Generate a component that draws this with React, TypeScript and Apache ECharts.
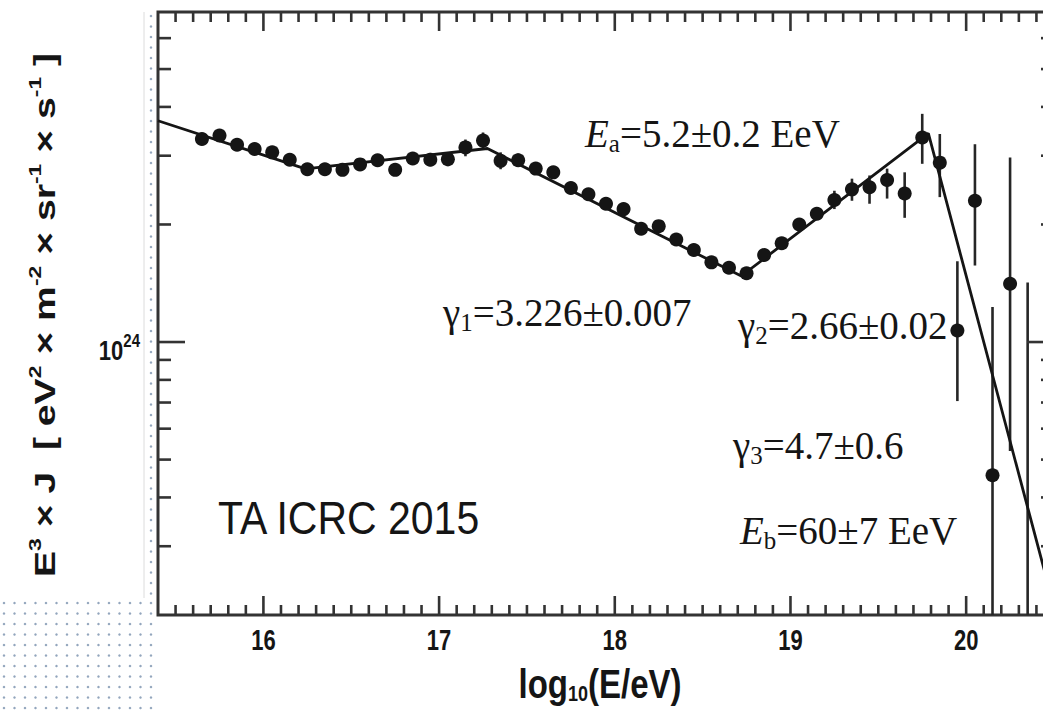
import React, { useEffect, useRef } from 'react';
import * as echarts from 'echarts';

// Energy bin centres, log10(E/eV)
const logE = [
  15.65, 15.75, 15.85, 15.95, 16.05, 16.15, 16.25, 16.35, 16.45, 16.55,
  16.65, 16.75, 16.85, 16.95, 17.05, 17.15, 17.25, 17.35, 17.45, 17.55,
  17.65, 17.75, 17.85, 17.95, 18.05, 18.15, 18.25, 18.35, 18.45, 18.55,
  18.65, 18.75, 18.85, 18.95, 19.05, 19.15, 19.25, 19.35, 19.45, 19.55,
  19.65, 19.75, 19.85, 19.95, 20.05, 20.15, 20.25, 20.35,
];

// E^3 x J in units of 10^24 eV^2 m^-2 sr^-1 s^-1 (null: bar only)
const flux = [
  3.31, 3.38, 3.2, 3.12, 3.06, 2.93, 2.77, 2.77, 2.76, 2.85,
  2.92, 2.76, 2.95, 2.93, 2.94, 3.15, 3.28, 2.91, 2.92, 2.78,
  2.72, 2.48, 2.39, 2.26, 2.19, 1.95, 1.98, 1.83, 1.72, 1.6,
  1.55, 1.5, 1.67, 1.79, 2.0, 2.13, 2.31, 2.46, 2.49, 2.6,
  2.4, 3.34, 2.88, 1.07, 2.3, 0.456, 1.41, null,
];

// lower / upper ends of the error bars, same units
const fluxLow = [
  3.24, 3.31, 3.14, 3.06, 3.0, 2.87, 2.72, 2.72, 2.7, 2.8,
  2.86, 2.7, 2.86, 2.82, 2.82, 2.99, 3.12, 2.77, 2.81, 2.73,
  2.66, 2.43, 2.34, 2.22, 2.15, 1.89, 1.94, 1.8, 1.68, 1.57,
  1.52, 1.47, 1.64, 1.75, 1.94, 2.07, 2.19, 2.3, 2.26, 2.33,
  2.08, 2.86, 2.35, 0.706, 1.57, 0.15, 0.526, 0.15,
];
const fluxHigh = [
  3.37, 3.44, 3.27, 3.18, 3.12, 2.99, 2.83, 2.83, 2.81, 2.91,
  2.98, 2.81, 3.03, 3.05, 3.05, 3.3, 3.44, 3.06, 3.04, 2.84,
  2.77, 2.53, 2.43, 2.31, 2.23, 2.0, 2.01, 1.87, 1.75, 1.63,
  1.58, 1.53, 1.7, 1.82, 2.05, 2.2, 2.44, 2.62, 2.67, 2.78,
  2.72, 3.84, 3.41, 1.61, 3.21, 1.23, 2.97, 1.42,
];

// Broken power-law fit: break points
const fitLogE = [15.4, 16.24, 17.275, 18.72, 19.785, 20.5];
const fitFlux = [3.687, 2.777, 3.13, 1.476, 3.42, 0.21];

const xRange = [15.4, 20.5];
const yRange = [0.2, 7];
const unitExponent = 24;

const xMajorTicks = [16, 17, 18, 19, 20];
const yMajorTicks = [1];
const yMinorTicks = [0.3, 0.4, 0.5, 0.6, 0.7, 0.8, 0.9, 2, 3, 4, 5, 6];

const SANS = '"Liberation Sans", Arial, Helvetica, sans-serif';
const SERIF = '"Liberation Serif", "Times New Roman", serif';
const INK = '#151515';
const FRAME = '#333';
// the sans-serif figure lettering is drawn tall and narrow
const STRETCH = 1.35;

function buildTickData() {
  const items: number[][] = [];
  for (let k = Math.round(xRange[0] * 10) + 1; k < Math.round(xRange[1] * 10); k++) {
    const v = k / 10;
    const major = xMajorTicks.some((m) => Math.abs(m - v) < 1e-6) ? 1 : 0;
    items.push([v, yRange[0], 0, major]);
    items.push([v, yRange[0], 1, major]);
  }
  for (const v of yMinorTicks) {
    items.push([xRange[0], v, 2, 0]);
    items.push([xRange[0], v, 3, 0]);
  }
  for (const v of yMajorTicks) {
    items.push([xRange[0], v, 2, 1]);
    items.push([xRange[0], v, 3, 1]);
  }
  return items;
}

function renderTick(_params: any, api: any) {
  const side = api.value(2);
  const major = api.value(3) === 1;
  const children: any[] = [];
  const lineStyle = { stroke: FRAME, lineWidth: 2.6 };
  if (side === 0 || side === 1) {
    const xv = api.value(0);
    const p = api.coord([xv, side === 0 ? yRange[0] : yRange[1]]);
    const len = major ? 19 : 10;
    const dir = side === 0 ? -1 : 1;
    children.push({
      type: 'line',
      shape: { x1: p[0], y1: p[1], x2: p[0], y2: p[1] + dir * len },
      style: lineStyle,
    });
    if (major && side === 0) {
      children.push({
        type: 'text',
        x: p[0],
        y: p[1] + 10,
        scaleY: STRETCH,
        style: {
          text: `{t|${Math.round(xv)}}`,
          align: 'center',
          verticalAlign: 'top',
          rich: {
            t: { fontSize: 22, fontWeight: 'bold', fontFamily: SANS, fill: INK },
          },
        },
      });
    }
  } else {
    const yv = api.value(1);
    const p = api.coord([side === 2 ? xRange[0] : xRange[1], yv]);
    const len = major ? 27 : 13;
    const dir = side === 2 ? 1 : -1;
    children.push({
      type: 'line',
      shape: { x1: p[0], y1: p[1], x2: p[0] + dir * len, y2: p[1] },
      style: lineStyle,
    });
    if (major && side === 2) {
      const exp = Math.round(Math.log10(yv)) + unitExponent;
      children.push({
        type: 'text',
        x: p[0] - 18,
        y: p[1] + 8,
        scaleY: 1.25,
        style: {
          text: `{b|10}{s|${exp}}`,
          align: 'right',
          verticalAlign: 'middle',
          rich: {
            b: { fontSize: 22, fontWeight: 'bold', fontFamily: SANS, fill: INK, lineHeight: 30 },
            s: { fontSize: 15, fontWeight: 'bold', fontFamily: SANS, verticalAlign: 'top', fill: INK },
          },
        },
      });
    }
  }
  return { type: 'group', children };
}

function renderErrorBar(_params: any, api: any) {
  const x = api.value(0);
  const lo = api.coord([x, api.value(1)]);
  const hi = api.coord([x, api.value(2)]);
  return {
    type: 'line',
    shape: { x1: lo[0], y1: lo[1], x2: hi[0], y2: hi[1] },
    style: { stroke: '#262626', lineWidth: 2.6 },
  };
}

function decorationDots() {
  const els: any[] = [];
  const dotStyle = { fill: '#93a6bd' };
  for (let y = 16; y < 598; y += 10.5) {
    els.push({ type: 'circle', shape: { cx: 151, cy: y, r: 1.25 }, style: dotStyle, silent: true });
  }
  for (let y = 603; y < 712; y += 10.5) {
    for (let x = 4; x < 156; x += 10.5) {
      els.push({ type: 'circle', shape: { cx: x, cy: y, r: 1.25 }, style: dotStyle, silent: true });
    }
  }
  els.push({
    type: 'line',
    shape: { x1: 144, y1: 12, x2: 144, y2: 598 },
    style: { stroke: '#dcdcdc', lineWidth: 1 },
    silent: true,
  });
  return els;
}

function serifRich(size: number) {
  return {
    n: { fontSize: size, fontFamily: SERIF, fill: INK, lineHeight: size * 1.2 },
    i: { fontSize: size, fontFamily: SERIF, fontStyle: 'italic', fill: INK, lineHeight: size * 1.2 },
    sub: { fontSize: size * 0.64, fontFamily: SERIF, fill: INK, verticalAlign: 'bottom' },
  };
}

function annotation(x: number, y: number, text: string, size = 39) {
  return {
    type: 'text',
    x,
    y,
    silent: true,
    style: {
      text,
      align: 'left',
      verticalAlign: 'middle',
      rich: serifRich(size),
    },
  };
}

export default function App() {
  const ref = useRef<HTMLDivElement>(null);

  useEffect(() => {
    if (!ref.current) return;
    document.body.style.margin = '0';
    document.body.style.overflow = 'hidden';
    document.documentElement.style.overflow = 'hidden';
    const chart = echarts.init(ref.current, undefined, { renderer: 'svg' });

    const points = logE
      .map((x, i) => (flux[i] == null ? null : [x, flux[i]]))
      .filter((p) => p !== null);
    const bars = logE.map((x, i) => [x, fluxLow[i], fluxHigh[i]]);
    const fit = fitLogE.map((x, i) => [x, fitFlux[i]]);

    chart.setOption({
      animation: false,
      backgroundColor: '#ffffff',
      grid: {
        left: 158,
        top: 12,
        width: 896,
        height: 603,
        show: true,
        borderColor: FRAME,
        borderWidth: 3,
        backgroundColor: 'transparent',
      },
      xAxis: {
        type: 'value',
        min: xRange[0],
        max: xRange[1],
        axisLine: { show: false },
        axisTick: { show: false },
        axisLabel: { show: false },
        splitLine: { show: false },
      },
      yAxis: {
        type: 'log',
        logBase: 10,
        min: yRange[0],
        max: yRange[1],
        axisLine: { show: false },
        axisTick: { show: false },
        axisLabel: { show: false },
        splitLine: { show: false },
        minorTick: { show: false },
      },
      series: [
        {
          type: 'custom',
          name: 'ticks',
          renderItem: renderTick,
          data: buildTickData(),
          silent: true,
          z: 5,
        },
        {
          type: 'custom',
          name: 'errors',
          renderItem: renderErrorBar,
          data: bars,
          clip: true,
          silent: true,
          z: 2,
        },
        {
          type: 'line',
          name: 'fit',
          data: fit,
          showSymbol: false,
          symbol: 'none',
          lineStyle: { color: INK, width: 2.8 },
          clip: true,
          silent: true,
          z: 3,
        },
        {
          type: 'scatter',
          name: 'TA',
          data: points,
          symbol: 'circle',
          symbolSize: 14,
          itemStyle: { color: INK, opacity: 1 },
          silent: true,
          z: 4,
        },
      ],
      graphic: [
        ...decorationDots(),
        annotation(585, 133, '{i|E}{sub|a}{n|=5.2±0.2 EeV}'),
        annotation(443, 312, '{n|γ}{sub|1}{n|=3.226±0.007}'),
        annotation(738, 325, '{n|γ}{sub|2}{n|=2.66±0.02}'),
        annotation(733, 445, '{n|γ}{sub|3}{n|=4.7±0.6}'),
        annotation(740, 530, '{i|E}{sub|b}{n|=60±7 EeV}'),
        {
          type: 'text',
          x: 218,
          y: 518,
          scaleY: 1.12,
          silent: true,
          style: {
            text: '{t|TA ICRC 2015}',
            align: 'left',
            verticalAlign: 'middle',
            rich: { t: { fontSize: 41, fontFamily: SANS, fill: INK } },
          },
        },
        {
          type: 'text',
          x: 600,
          y: 684,
          scaleY: 1.22,
          silent: true,
          style: {
            text: '{b|log}{sub|10}{b|(E/eV)}',
            align: 'center',
            verticalAlign: 'middle',
            rich: {
              b: { fontSize: 33, fontWeight: 'bold', fontFamily: SANS, fill: INK, lineHeight: 34 },
              sub: { fontSize: 18, fontWeight: 'bold', fontFamily: SANS, fill: INK, verticalAlign: 'bottom' },
            },
          },
        },
        {
          type: 'text',
          x: 45,
          y: 315,
          rotation: Math.PI / 2,
          scaleX: STRETCH,
          silent: true,
          style: {
            text: '{b|E}{sup|3}{b| × J  [ eV}{sup|2}{b| × m}{sup|-2}{b| × sr}{sup|-1}{b| × s}{sup|-1}{b| ]}',
            align: 'center',
            verticalAlign: 'middle',
            rich: {
              b: { fontSize: 29, fontWeight: 'bold', fontFamily: SANS, fill: INK, lineHeight: 36 },
              sup: { fontSize: 17, fontWeight: 'bold', fontFamily: SANS, fill: INK, verticalAlign: 'top' },
            },
          },
        },
      ],
    });

    return () => chart.dispose();
  }, []);

  return (
    <div
      ref={ref}
      style={{ position: 'fixed', left: 0, top: 0, width: 1070, height: 712, background: '#fff' }}
    />
  );
}
